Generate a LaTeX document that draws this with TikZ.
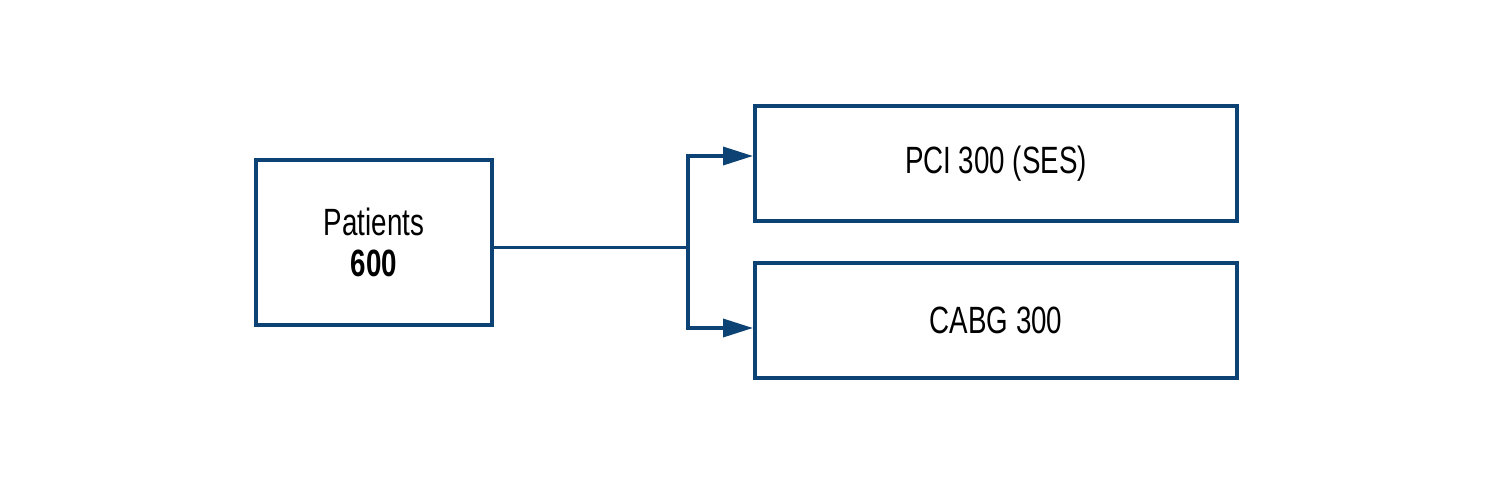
\documentclass[tikz,border=0pt]{standalone}
\usepackage{fontspec}
\setmainfont[FakeStretch=0.73]{Liberation Sans}
\usetikzlibrary{arrows.meta}
\definecolor{navy}{RGB}{12,66,116}
\tikzset{
  box/.style={draw=navy, line width=4pt, rectangle, inner sep=0pt, align=center,
    font=\fontsize{38}{41}\selectfont},
  conn/.style={draw=navy, line width=3.5pt},
  arr/.style={conn, -{Triangle[length=30pt,width=18pt]}}
}
\begin{document}
\begin{tikzpicture}[x=1pt,y=-1pt]
\useasboundingbox (0,0) rectangle (1512,482);
\node[box, minimum width=236pt, minimum height=165pt] (L) at (374,242.5) {Patients\\\textbf{600}};
\node[box, minimum width=482pt, minimum height=115pt] (T) at (996,163.5) {PCI 300 (SES)};
\node[box, minimum width=482pt, minimum height=115pt] (B) at (996,320) {CABG 300};
\coordinate (j) at (688,247.5);
\coordinate (ta) at (753,156);
\coordinate (ba) at (753,328);
\draw[conn] (j -| L.east) -- (j);
\draw[arr] (j) |- (ta);
\draw[arr] (j) |- (ba);
\end{tikzpicture}
\end{document}
